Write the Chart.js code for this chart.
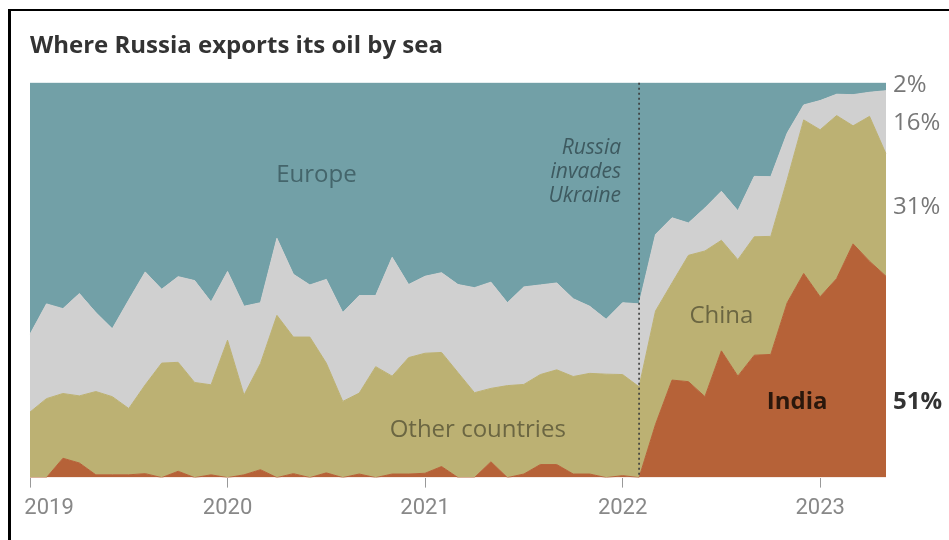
<!DOCTYPE html>
<html>
<head>
<meta charset="utf-8">
<title>Where Russia exports its oil by sea</title>
<script src="https://cdn.jsdelivr.net/npm/chart.js@4"></script>
<style>
  body { margin: 0; background: #fff; }
  #wrap { position: absolute; left: 0; top: 0; width: 949px; height: 540px; }
  #frame { position: absolute; left: 8px; top: 9px; width: 1200px; height: 800px;
           border-left: 3px solid #000; border-top: 2px solid #000; pointer-events: none; }
</style>
</head>
<body>
<div id="wrap"><canvas id="grafico"></canvas></div>
<div id="frame"></div>
<script>
// monthly share of Russian seaborne oil exports (%), Jan 2019 - May 2023
const years = ['2019', '2020', '2021', '2022', '2023'];
const monthNames = ['Jan', 'Feb', 'Mar', 'Apr', 'May', 'Jun', 'Jul', 'Aug', 'Sep', 'Oct', 'Nov', 'Dec'];

const india = [
  0, 0, 4.9, 3.7, 0.7, 0.7, 0.7, 1.0, 0, 1.6, 0, 0.7,
  0, 0.7, 2.0, 0, 1.0, 0, 1.2, 0, 0.9, 0, 0.9, 0.9,
  1.1, 2.8, 0, 0, 4.0, 0, 0.9, 3.3, 3.3, 0.9, 0.9, 0,
  0.5, 0, 13.5, 24.7, 24.3, 20.5, 32.1, 25.7, 31.0, 31.2, 44.3, 51.7,
  45.8, 50.4, 59.2, 54.8, 51
];
const china = [
  16.6, 20.0, 16.4, 17.0, 21.1, 19.8, 16.8, 22.5, 29.0, 27.6, 24.1, 22.8,
  34.8, 20.2, 26.9, 41.1, 34.6, 35.6, 27.8, 19.3, 20.5, 28.1, 24.8, 29.5,
  30.4, 28.9, 26.6, 21.5, 18.6, 23.3, 22.7, 22.8, 24.0, 24.7, 25.5, 26.2,
  25.6, 23.0, 28.7, 24.6, 32.0, 36.9, 28.0, 29.5, 30.0, 29.9, 31.2, 38.9,
  42.3, 41.3, 29.9, 36.7, 31
];
const other = [
  19.7, 24.0, 21.5, 25.9, 20.0, 17.2, 27.5, 28.6, 18.7, 21.7, 25.8, 21.0,
  17.4, 22.5, 15.4, 19.5, 15.9, 13.2, 21.2, 22.5, 24.7, 18.0, 30.1, 18.5,
  19.5, 20.2, 22.3, 26.6, 26.9, 21.0, 24.7, 22.7, 22.0, 19.7, 17.0, 13.9,
  18.2, 21.0, 19.4, 16.5, 8.2, 10.9, 12.4, 12.4, 15.3, 15.1, 11.8, 3.8,
  7.4, 5.4, 7.9, 6.1, 16
];
const europe = [
  63.7, 56.0, 57.2, 53.4, 58.2, 62.3, 55.0, 47.9, 52.3, 49.1, 50.1, 55.5,
  47.8, 56.6, 55.7, 39.4, 48.5, 51.2, 49.8, 58.2, 53.9, 53.9, 44.2, 51.1,
  49.0, 48.1, 51.1, 51.9, 50.5, 55.7, 51.7, 51.2, 50.7, 54.7, 56.6, 59.9,
  55.7, 56.0, 38.4, 34.2, 35.5, 31.7, 27.5, 32.4, 23.7, 23.8, 12.7, 5.6,
  4.5, 2.9, 3.0, 2.4, 2
];
const endLabels = ['2%', '16%', '31%', '51%'];
const invasionMonth = 'Feb 2022';

const labels = [];
years.forEach(y => monthNames.forEach(m => labels.push(m + ' ' + y)));
labels.length = india.length;

const cores = { india: '#b66238', china: '#bcb173', other: '#d0d0d0', europe: '#72a0a7' };
const fonte = "'Open Sans', Roboto, sans-serif";

// text notes, placed in data units (month index, percent)
const notas = [
  { text: 'Europe', x: 17.4, y: 76.7, color: '#44656b' },
  { text: 'Other countries', x: 27.2, y: 12.0, color: '#6b6642' },
  { text: 'China', x: 42.0, y: 40.8, color: '#6b6642' },
  { text: 'India', x: 46.6, y: 19.1, color: '#2a170c', bold: true }
];
const invasao = [
  { text: 'Russia', y: 83.5 },
  { text: 'invades', y: 77.5 },
  { text: 'Ukraine', y: 71.4 }
];
const finais = [
  { y: 99.5, color: '#777' },
  { y: 89.9, color: '#777' },
  { y: 68.4, color: '#777' },
  { y: 19.1, color: '#333', bold: true }
];

const anotacoes = {
  id: 'anotacoes',
  afterDatasetsDraw(chart) {
    const { ctx, chartArea, scales } = chart;
    const x = scales.x, y = scales.y;
    ctx.save();

    // dotted line for the invasion
    const xi = x.getPixelForValue(labels.indexOf(invasionMonth));
    ctx.strokeStyle = '#3a3a3a';
    ctx.lineWidth = 1.6;
    ctx.setLineDash([2, 3]);
    ctx.beginPath();
    ctx.moveTo(xi, chartArea.top);
    ctx.lineTo(xi, chartArea.bottom);
    ctx.stroke();
    ctx.setLineDash([]);

    ctx.textBaseline = 'middle';
    ctx.textAlign = 'center';
    notas.forEach(n => {
      ctx.font = (n.bold ? 'bold ' : '') + '24px ' + fonte;
      ctx.fillStyle = n.color;
      ctx.fillText(n.text, x.getPixelForValue(n.x), y.getPixelForValue(n.y));
    });

    ctx.textAlign = 'right';
    ctx.font = 'italic 21px ' + fonte;
    ctx.fillStyle = '#3e5a60';
    invasao.forEach(l => ctx.fillText(l.text, xi - 18, y.getPixelForValue(l.y)));

    ctx.textAlign = 'left';
    finais.forEach((f, i) => {
      ctx.font = (f.bold ? 'bold ' : '') + '24px ' + fonte;
      ctx.fillStyle = f.color;
      ctx.fillText(endLabels[i], chartArea.right + 7, y.getPixelForValue(f.y));
    });
    ctx.restore();
  }
};

function camada(label, data, cor, fill) {
  return {
    label: label,
    data: data,
    backgroundColor: cor,
    borderColor: cor,
    borderWidth: 1,
    fill: fill,
    tension: 0,
    pointRadius: 0,
    pointHoverRadius: 0
  };
}

new Chart(document.getElementById('grafico'), {
  type: 'line',
  data: {
    labels: labels,
    datasets: [
      camada('India', india, cores.india, 'origin'),
      camada('China', china, cores.china, '-1'),
      camada('Other countries', other, cores.other, '-1'),
      camada('Europe', europe, cores.europe, '-1')
    ]
  },
  options: {
    responsive: true,
    maintainAspectRatio: false,
    animation: false,
    layout: { padding: { left: 30, right: 63, top: 10, bottom: 10 } },
    plugins: {
      legend: { display: false },
      tooltip: { enabled: false },
      title: {
        display: true,
        text: 'Where Russia exports its oil by sea',
        align: 'start',
        color: '#333',
        font: { family: fonte, size: 24, weight: 'bold' },
        padding: { top: 22, bottom: 22 }
      }
    },
    scales: {
      x: {
        offset: false,
        border: { display: false },
        grid: {
          drawOnChartArea: false,
          drawTicks: true,
          tickLength: 10,
          color: c => (c.index % 12 === 0 ? '#999' : 'rgba(0,0,0,0)')
        },
        ticks: {
          autoSkip: false,
          maxRotation: 0,
          padding: 8,
          color: '#888',
          font: { family: 'Roboto', size: 22 },
          callback: function(value, index) {
            if (index % 12 !== 0) return '';
            const ano = this.getLabelForValue(value).split(' ')[1];
            return index === 0 ? '       ' + ano : ano;
          }
        },
        afterFit: function(scale) {
          scale.paddingLeft = 0;
        }
      },
      y: {
        display: false,
        stacked: true,
        min: 0,
        max: 100
      }
    }
  },
  plugins: [anotacoes]
});
</script>
</body>
</html>
